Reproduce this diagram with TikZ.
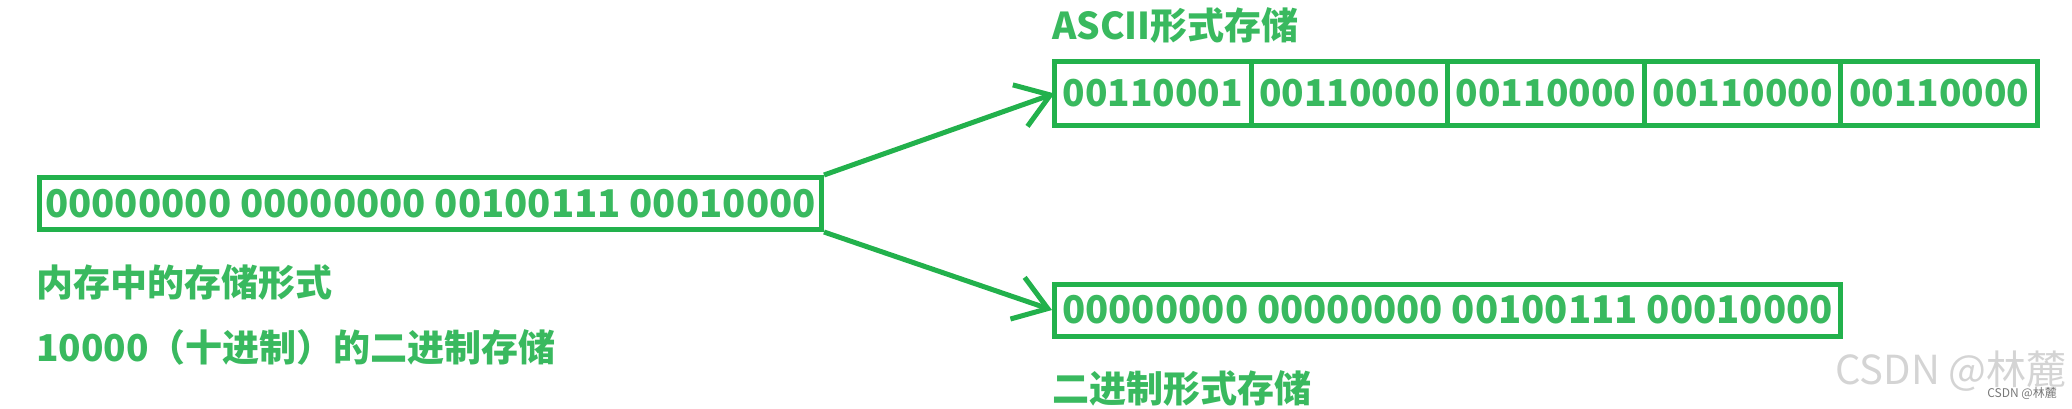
\documentclass[tikz,border=0pt]{standalone}
\usepackage{fontspec}
\setmainfont{Noto Sans CJK SC}
\usetikzlibrary{arrows.meta,positioning}
\definecolor{paintgreen}{RGB}{34,177,76}
\definecolor{textgreen}{RGB}{57,185,95}
\definecolor{markgray}{RGB}{212,212,212}
\definecolor{smallgray}{RGB}{120,120,120}
\tikzset{
  bitbox/.style={
    draw=paintgreen,
    line width=5pt,
    text=textgreen,
    inner sep=0pt,
    minimum height=52pt,
    font=\bfseries\fontsize{38.2}{42}\selectfont
  },
  cellbox/.style={bitbox, outer sep=0pt, minimum width=196.6pt, minimum height=64pt, font=\bfseries\fontsize{37}{42}\selectfont},
  lbl/.style={text=textgreen, inner sep=0pt, anchor=west, font=\bfseries\fontsize{37}{40}\selectfont},
  marktext/.style={text=markgray, inner sep=0pt, anchor=east},
  arr/.style={-{Straight Barb[length=32pt,width=44pt]}, line width=5pt, draw=paintgreen}
}

\begin{document}
\begin{tikzpicture}[x=1pt, y=-1pt]
  \useasboundingbox (0,0) rectangle (2072,408);
  % value in memory
  \node[bitbox, minimum width=782pt] (mem) at (430.5,203.5) {00000000 00000000 00100111 00010000};
  \node[lbl] (memlbl) at (36,282) {内存中的存储形式};
  \node[lbl] (declbl) at (36,347) {10000（十进制）的二进制存储};
  % ASCII form, one cell per character
  \node[cellbox] (c1) at (1152.8,93.5) {00110001};
  \node[cellbox, right=0pt of c1] (c2) {00110000};
  \node[cellbox, right=0pt of c2] (c3) {00110000};
  \node[cellbox, right=0pt of c3] (c4) {00110000};
  \node[cellbox, right=0pt of c4] (c5) {00110000};
  \node[lbl] (asciilbl) at (1052,25) {ASCII形式存储};
  % binary form
  \node[bitbox, minimum width=786pt] (bin) at (1447.5,310) {00000000 00000000 00100111 00010000};
  \node[lbl] (binlbl) at (1052,388) {二进制形式存储};
  \draw[arr] (mem.north east) -- (c1.west);
  \draw[arr] (mem.south east) -- (bin.west);
  % watermark
  \node[marktext, font=\fontsize{40}{44}\selectfont] (mark) at (2067,371) {CSDN @林麓};
  \node[marktext, text=smallgray, font=\fontsize{12}{13}\selectfont] (marksmall) at (2057,393) {CSDN @林麓};
\end{tikzpicture}
\end{document}
